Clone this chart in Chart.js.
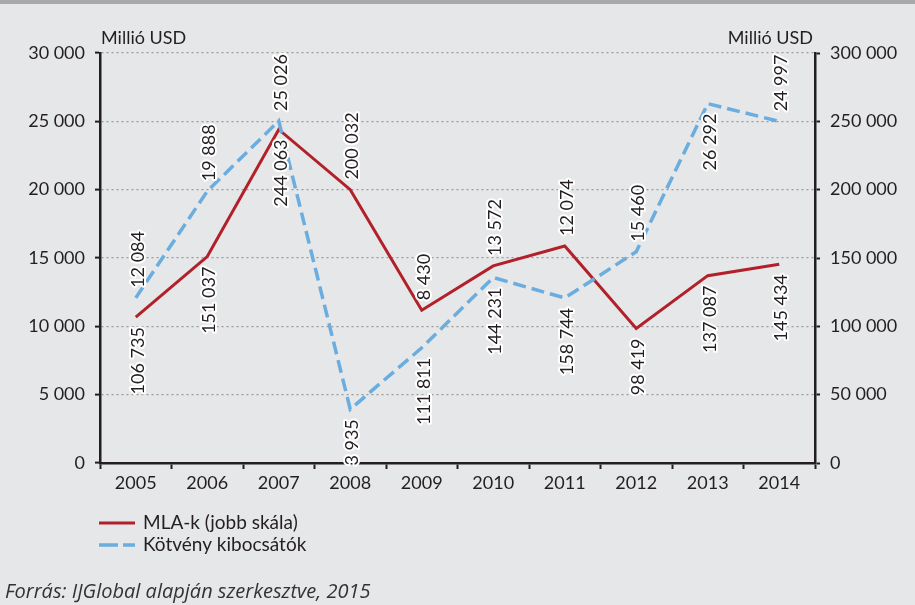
<!DOCTYPE html>
<html>
<head>
<meta charset="utf-8">
<script src="https://cdn.jsdelivr.net/npm/chart.js@4.4.1/dist/chart.umd.min.js"></script>
<style>
    body { margin: 0; background: #e6e7e8; }
    canvas { display: block; }
</style>
</head>
<body>
<canvas id="chart" width="915" height="605"></canvas>
<script>
// data
const years = ['2005', '2006', '2007', '2008', '2009', '2010', '2011', '2012', '2013', '2014'];
const mlaValues = [106735, 151037, 244063, 200032, 111811, 144231, 158744, 98419, 137087, 145434];
const bondValues = [12084, 19888, 25026, 3935, 8430, 13572, 12074, 15460, 26292, 24997];
const leftTicks = [0, 5000, 10000, 15000, 20000, 25000, 30000];
const rightTicks = [0, 50000, 100000, 150000, 200000, 250000, 300000];

const textColor = '#231f20';
const fontFamily = 'Lato, "Open Sans", sans-serif';
const red = '#b2202a';
const blue = '#6badde';

function fmt(v) {
    return String(v).replace(/\B(?=(\d{3})+(?!\d))/g, ' ');
}

// where each value label sits: above the upper point, below the lower point, ...
const mlaLabelModes = ['belowBottom', 'belowBottom', 'belowBottom', 'aboveTop', 'belowBottom', 'belowBottom', 'belowBottom', 'belowBottom', 'belowBottom', 'belowBottom'];
const bondLabelModes = ['aboveTop', 'aboveTop', 'aboveTop', 'belowBottom', 'aboveTop', 'aboveTop', 'aboveTop', 'aboveTop', 'belowTop', 'aboveTop'];

const decorPlugin = {
    id: 'decor',
    beforeDraw(chart) {
        const ctx = chart.ctx;
        ctx.save();
        ctx.fillStyle = '#e6e7e8';
        ctx.fillRect(0, 0, chart.width, chart.height);
        ctx.fillStyle = '#a7a9ac';
        ctx.fillRect(0, 0, chart.width, 4);
        ctx.restore();
    },
    afterDraw(chart) {
        const ctx = chart.ctx;
        const area = chart.chartArea;
        ctx.save();
        ctx.fillStyle = textColor;
        ctx.font = '18px ' + fontFamily;
        ctx.textBaseline = 'middle';
        ctx.textAlign = 'left';
        ctx.fillText('Millió USD', area.left + 1, 38);
        ctx.textAlign = 'right';
        ctx.fillText('Millió USD', area.right - 2, 38);

        // value labels
        const mlaMeta = chart.getDatasetMeta(0);
        const bondMeta = chart.getDatasetMeta(1);
        const gap = 10;
        const drawLabel = (text, x, y, mode, ownY) => {
            let anchorY, above;
            if (mode === 'aboveTop') { anchorY = y.top; above = true; }
            else if (mode === 'belowBottom') { anchorY = y.bottom; above = false; }
            else { anchorY = ownY; above = false; }
            ctx.save();
            ctx.translate(x + 2, anchorY);
            ctx.rotate(-Math.PI / 2);
            ctx.font = '18px ' + fontFamily;
            ctx.textBaseline = 'middle';
            ctx.textAlign = above ? 'left' : 'right';
            const tx = above ? gap : -gap;
            ctx.lineWidth = 4;
            ctx.lineJoin = 'round';
            ctx.strokeStyle = '#ffffff';
            ctx.strokeText(text, tx, 0);
            ctx.fillStyle = textColor;
            ctx.fillText(text, tx, 0);
            ctx.restore();
        };
        years.forEach((yr, i) => {
            const pm = mlaMeta.data[i];
            const pb = bondMeta.data[i];
            const y = { top: Math.min(pm.y, pb.y), bottom: Math.max(pm.y, pb.y) };
            drawLabel(fmt(mlaValues[i]), pm.x, y, mlaLabelModes[i], pm.y);
            drawLabel(fmt(bondValues[i]), pb.x, y, bondLabelModes[i], pb.y);
        });

        // legend
        ctx.lineCap = 'butt';
        ctx.lineWidth = 3;
        ctx.strokeStyle = red;
        ctx.beginPath();
        ctx.moveTo(99, 523);
        ctx.lineTo(135, 523);
        ctx.stroke();
        ctx.lineWidth = 3.5;
        ctx.strokeStyle = blue;
        ctx.setLineDash([19, 5]);
        ctx.beginPath();
        ctx.moveTo(99, 545);
        ctx.lineTo(135, 545);
        ctx.stroke();
        ctx.setLineDash([]);
        ctx.fillStyle = textColor;
        ctx.textAlign = 'left';
        ctx.font = '19px ' + fontFamily;
        ctx.fillText(chart.data.datasets[0].label, 143, 523);
        ctx.fillText(chart.data.datasets[1].label, 143, 545);

        ctx.font = 'italic 20px "Open Sans", Lato, sans-serif';
        ctx.fillStyle = '#333333';
        ctx.fillText('Forrás: IJGlobal alapján szerkesztve, 2015', 5, 592);
        ctx.restore();
    }
};

const ctx = document.getElementById('chart').getContext('2d');
const chart = new Chart(ctx, {
    type: 'line',
    data: {
        labels: years,
        datasets: [{
            label: 'MLA-k (jobb skála)',
            data: mlaValues,
            yAxisID: 'y1',
            borderColor: red,
            borderWidth: 3,
            pointRadius: 0,
            tension: 0,
            fill: false,
            order: 1
        }, {
            label: 'Kötvény kibocsátók',
            data: bondValues,
            yAxisID: 'y',
            borderColor: blue,
            borderWidth: 3.5,
            borderDash: [13, 6],
            pointRadius: 0,
            tension: 0,
            fill: false,
            order: 0
        }]
    },
    options: {
        responsive: false,
        animation: false,
        layout: { padding: { top: 53 } },
        plugins: {
            legend: { display: false },
            tooltip: { enabled: false }
        },
        scales: {
            x: {
                offset: true,
                afterFit(scale) { scale.height = 142; },
                grid: {
                    offset: true,
                    drawOnChartArea: false,
                    drawTicks: true,
                    tickLength: 6,
                    tickColor: textColor,
                    tickWidth: 2
                },
                border: { color: textColor, width: 2.5 },
                ticks: {
                    color: textColor,
                    font: { family: fontFamily, size: 18 },
                    padding: 3,
                    maxRotation: 0
                }
            },
            y: {
                position: 'left',
                min: 0,
                max: 30000,
                afterFit(scale) { scale.width = 100; },
                afterBuildTicks(scale) { scale.ticks = leftTicks.map(v => ({ value: v })); },
                grid: {
                    color: '#9a9a9a',
                    lineWidth: 1.2,
                    drawTicks: true,
                    tickLength: 5,
                    tickColor: textColor,
                    tickWidth: 2,
                    tickBorderDash: []
                },
                border: { color: textColor, width: 2.5, dash: [2, 3] },
                ticks: {
                    color: textColor,
                    font: { family: fontFamily, size: 18 },
                    padding: 10,
                    callback: v => fmt(v)
                }
            },
            y1: {
                position: 'right',
                min: 0,
                max: 300000,
                afterFit(scale) { scale.width = 100; },
                afterBuildTicks(scale) { scale.ticks = rightTicks.map(v => ({ value: v })); },
                grid: {
                    drawOnChartArea: false,
                    drawTicks: true,
                    tickLength: 5,
                    tickColor: textColor,
                    tickWidth: 2
                },
                border: { color: textColor, width: 2.5 },
                ticks: {
                    color: textColor,
                    font: { family: fontFamily, size: 18 },
                    padding: 10,
                    callback: v => fmt(v)
                }
            }
        }
    },
    plugins: [decorPlugin]
});
</script>
</body>
</html>
